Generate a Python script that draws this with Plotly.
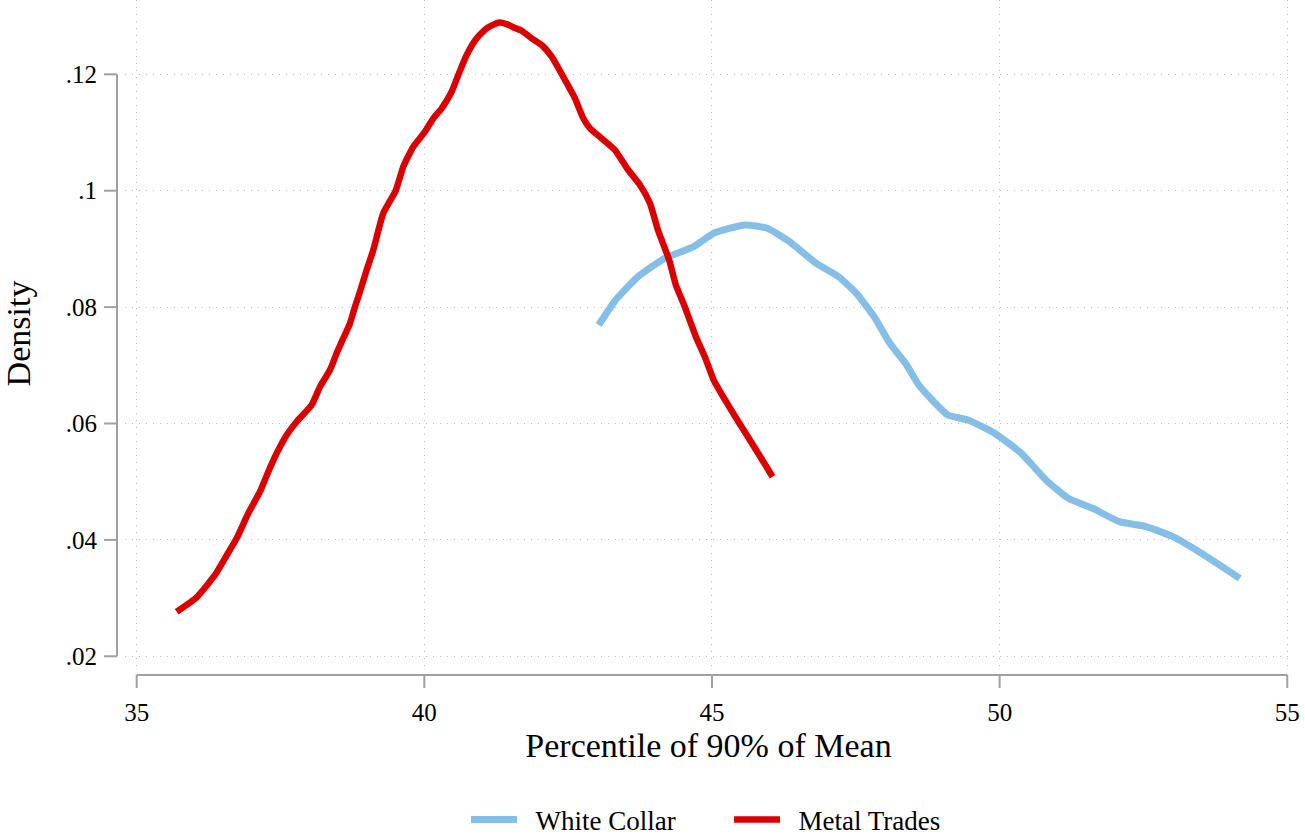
import plotly.graph_objects as go

# Metal Trades kernel density
metal_x = [35.695, 36.043, 36.361, 36.535, 36.738, 36.940, 37.143, 37.288, 37.434, 37.607,
           37.781, 38.042, 38.186, 38.360, 38.476, 38.591, 38.708, 38.795, 38.881, 38.998,
           39.113, 39.286, 39.502, 39.634, 39.808, 40.011, 40.156, 40.302, 40.475, 40.590,
           40.736, 40.910, 41.084, 41.285, 41.431, 41.546, 41.692, 41.866, 42.040, 42.214,
           42.445, 42.619, 42.763, 42.880, 43.083, 43.314, 43.545, 43.749, 43.922, 44.061,
           44.256, 44.372, 44.527, 44.720, 44.875, 45.030, 45.263, 45.495, 45.767, 46.053]
metal_y = [0.02766, 0.03014, 0.03397, 0.03684, 0.04027, 0.04457, 0.04828, 0.05172, 0.05488, 0.05802,
           0.06031, 0.06318, 0.06632, 0.06919, 0.07206, 0.07464, 0.07722, 0.08007, 0.08265, 0.08637,
           0.08981, 0.09612, 0.10000, 0.10412, 0.10756, 0.11014, 0.11244, 0.11416, 0.11701, 0.11988,
           0.12332, 0.12619, 0.12790, 0.12887, 0.12864, 0.12808, 0.12749, 0.12619, 0.12503, 0.12302,
           0.11902, 0.11588, 0.11244, 0.11072, 0.10900, 0.10699, 0.10356, 0.10098, 0.09784, 0.09325,
           0.08809, 0.08380, 0.08007, 0.07491, 0.07148, 0.06747, 0.06347, 0.05974, 0.05545, 0.05086]

# White Collar kernel density
white_x = [43.031, 43.326, 43.714, 44.178, 44.682, 45.030, 45.574, 45.960, 46.347, 46.813,
           47.201, 47.510, 47.820, 48.092, 48.364, 48.595, 48.828, 49.099, 49.448, 49.912,
           50.378, 50.804, 51.192, 51.617, 52.083, 52.547, 53.013, 53.555, 54.174]
white_y = [0.07692, 0.08122, 0.08522, 0.08838, 0.09038, 0.09268, 0.09411, 0.09354, 0.09124, 0.08753,
           0.08522, 0.08237, 0.07835, 0.07378, 0.07034, 0.06662, 0.06404, 0.06146, 0.06060, 0.05832,
           0.05488, 0.05029, 0.04715, 0.04543, 0.04313, 0.04227, 0.04055, 0.03741, 0.03340]

x_ticks = [35, 40, 45, 50, 55]
y_ticks = [0.02, 0.04, 0.06, 0.08, 0.10, 0.12]
y_tick_text = [".02", ".04", ".06", ".08", ".1", ".12"]

FONT = "Liberation Serif, Times New Roman, serif"
AXIS_COL = "#A0A0A0"
GRID_COL = "#BDBDBD"

fig = go.Figure()
fig.add_trace(go.Scatter(x=white_x, y=white_y, mode="lines", name="\u2002White Collar",
                         line=dict(color="#85BFE8", width=7, shape="spline", smoothing=0.5)))
fig.add_trace(go.Scatter(x=metal_x, y=metal_y, mode="lines", name="\u2002Metal Trades",
                         line=dict(color="#D80000", width=6.5, shape="spline", smoothing=0.5)))

# Stata-style offset axis lines and ticks
xl_y = -0.012
xt_y = -0.0315
yl_x = -0.00686
yt_x = -0.018
shapes = [dict(type="line", xref="x", yref="paper", x0=x_ticks[0], x1=x_ticks[-1], y0=xl_y, y1=xl_y,
               line=dict(color=AXIS_COL, width=2))]
for t in x_ticks:
    shapes.append(dict(type="line", xref="x", yref="paper", x0=t, x1=t, y0=xl_y, y1=xt_y,
                       line=dict(color=AXIS_COL, width=2)))
shapes.append(dict(type="line", xref="paper", yref="y", x0=yl_x, x1=yl_x, y0=y_ticks[0], y1=y_ticks[-1],
                   line=dict(color=AXIS_COL, width=2)))
for t in y_ticks:
    shapes.append(dict(type="line", xref="paper", yref="y", x0=yl_x, x1=yt_x, y0=t, y1=t,
                       line=dict(color=AXIS_COL, width=2)))

fig.update_layout(
    width=1305, height=839,
    margin=dict(l=125, r=13, t=0, b=172),
    paper_bgcolor="white", plot_bgcolor="white",
    font=dict(family=FONT, color="black"),
    shapes=shapes,
    showlegend=True,
    legend=dict(orientation="h", xref="paper", x=(466 - 125) / 1167, xanchor="left",
                yref="container", y=(839 - 820) / 839, yanchor="middle",
                font=dict(size=27, family=FONT), itemwidth=46, traceorder="normal",
                entrywidth=202, entrywidthmode="pixels"),
    xaxis=dict(range=[34.797, 55.082], tickvals=x_ticks, ticks="", showline=False, automargin=False,
               showgrid=True, gridcolor=GRID_COL, gridwidth=1.2, griddash="1px,6px", zeroline=False,
               tickfont=dict(size=25, family=FONT), ticklabelstandoff=28,
               title=dict(text="Percentile of 90% of Mean", font=dict(size=34, family=FONT), standoff=8)),
    yaxis=dict(range=[0.01816, 0.13277], tickvals=y_ticks, ticktext=y_tick_text, ticks="", showline=False,
               automargin=False,
               showgrid=True, gridcolor=GRID_COL, gridwidth=1.2, griddash="1px,6px", zeroline=False,
               tickfont=dict(size=25, family=FONT), ticklabelstandoff=27,
               title=dict(text="Density", font=dict(size=34, family=FONT), standoff=30)),
)

fig.write_html("out.html", config={"displayModeBar": False},
               post_script="document.body.style.margin='0';document.body.style.padding='0';")
